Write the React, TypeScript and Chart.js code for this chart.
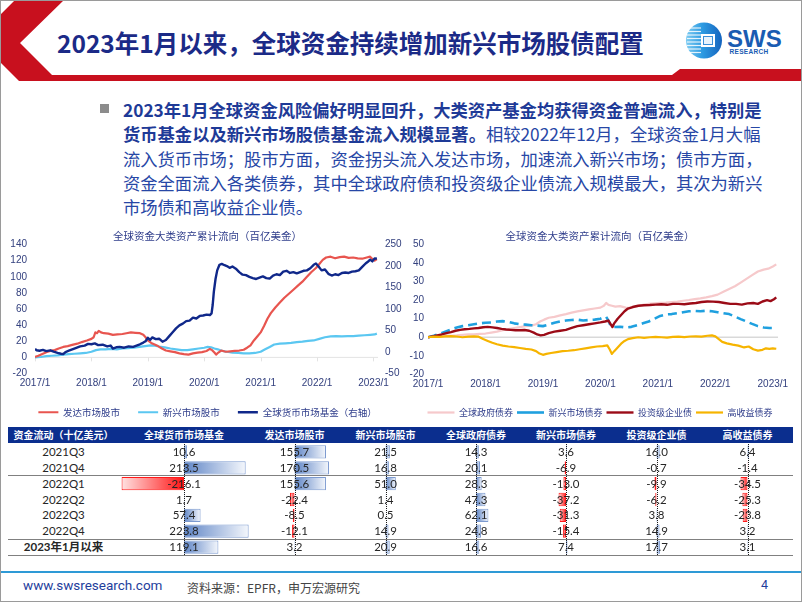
import React, { useEffect, useRef } from 'react';
import { Chart, registerables } from 'chart.js';

Chart.register(...registerables);

const CJK = '"Noto Sans CJK SC", "Noto Sans", sans-serif';
const NUM = '"Liberation Sans", "Noto Sans CJK SC", sans-serif';
const TBL = 'Lato, "Noto Sans CJK SC", sans-serif';
Chart.defaults.font.family = NUM;

// ---------- Left chart: 全球资金大类资产累计流向（百亿美金） ----------
const xYears = [2017, 2018, 2019, 2020, 2021, 2022, 2023];
const leftAxisRange = [-20, 140];
const leftAxisStep = 20;
const rightAxisRange = [-50, 250];
const rightAxisStep = 50;
const xRange = [2017, 2023.08];

// 发达市场股市 (left axis)
const dmEquity = [
  [2017.0, 0.5], [2017.06, 2], [2017.12, 4], [2017.2, 6.5], [2017.27, 8], [2017.35, 9], [2017.42, 11],
  [2017.5, 13], [2017.58, 14], [2017.66, 15.5], [2017.75, 17], [2017.83, 19], [2017.92, 21], [2018.0, 23],
  [2018.04, 25], [2018.07, 31], [2018.1, 30], [2018.13, 33], [2018.17, 31], [2018.22, 30], [2018.3, 29.5],
  [2018.38, 28], [2018.46, 28.5], [2018.55, 29], [2018.62, 30], [2018.7, 31], [2018.78, 30.5], [2018.86, 30],
  [2018.92, 28], [2018.96, 25], [2019.0, 21], [2019.06, 18], [2019.12, 16], [2019.18, 14], [2019.25, 11],
  [2019.32, 8.5], [2019.4, 7.5], [2019.48, 6.5], [2019.56, 5], [2019.64, 4], [2019.72, 3.5], [2019.8, 5],
  [2019.88, 6], [2019.96, 6.5], [2020.04, 8], [2020.1, 10.5], [2020.14, 9], [2020.18, 6], [2020.21, 3.5],
  [2020.25, 6], [2020.3, 8.5], [2020.38, 7], [2020.46, 7.5], [2020.54, 8], [2020.62, 8.5], [2020.7, 9.5],
  [2020.76, 12], [2020.82, 15], [2020.88, 21], [2020.94, 26], [2021.0, 31], [2021.06, 39], [2021.12, 48],
  [2021.18, 55], [2021.26, 62], [2021.34, 68], [2021.42, 74], [2021.5, 79], [2021.58, 84], [2021.66, 89],
  [2021.74, 94], [2021.82, 100], [2021.9, 106], [2021.98, 111], [2022.04, 116], [2022.1, 121], [2022.16, 124],
  [2022.24, 125], [2022.32, 123], [2022.4, 124.5], [2022.48, 125], [2022.56, 123.5], [2022.64, 124],
  [2022.72, 123], [2022.8, 122.5], [2022.88, 124], [2022.94, 125], [2022.98, 122], [2023.02, 120], [2023.06, 122],
];

// 新兴市场股市 (left axis)
const emEquity = [
  [2017.0, 0], [2017.1, 0.5], [2017.2, 1.5], [2017.3, 2], [2017.4, 2.5], [2017.5, 3.5], [2017.6, 4],
  [2017.7, 4.5], [2017.8, 5], [2017.9, 5.5], [2018.0, 7], [2018.08, 9], [2018.16, 10], [2018.25, 10],
  [2018.35, 10.5], [2018.45, 10], [2018.55, 11], [2018.65, 11.5], [2018.75, 12], [2018.85, 13], [2018.95, 14],
  [2019.05, 15], [2019.12, 14.5], [2019.2, 13.5], [2019.3, 12.5], [2019.4, 11], [2019.5, 10], [2019.6, 9],
  [2019.7, 9], [2019.8, 10], [2019.9, 11], [2020.0, 12], [2020.06, 13], [2020.12, 12.5], [2020.18, 11],
  [2020.24, 10], [2020.32, 8], [2020.4, 7], [2020.5, 6], [2020.6, 5.5], [2020.7, 5], [2020.8, 5],
  [2020.9, 5.5], [2021.0, 7], [2021.08, 10], [2021.16, 13], [2021.24, 16], [2021.34, 17], [2021.44, 17.5],
  [2021.54, 18], [2021.64, 19], [2021.74, 19.5], [2021.84, 20.5], [2021.94, 21], [2022.04, 23], [2022.14, 25],
  [2022.24, 26], [2022.34, 26.5], [2022.44, 26], [2022.54, 26.5], [2022.64, 26.5], [2022.74, 27],
  [2022.84, 27.5], [2022.94, 28], [2023.02, 28.5], [2023.06, 29.5],
];

// 全球货币市场基金 (right axis)
const moneyMarket = [
  [2017.0, 7], [2017.03, 4], [2017.08, 3], [2017.14, 5], [2017.2, 2], [2017.27, 4], [2017.33, 1], [2017.4, -2],
  [2017.46, -4], [2017.5, -5], [2017.54, 0], [2017.6, 3], [2017.66, 6], [2017.72, 9], [2017.8, 13],
  [2017.88, 15], [2017.94, 19], [2018.0, 18], [2018.06, 20], [2018.12, 16], [2018.2, 17], [2018.28, 13],
  [2018.34, 15], [2018.38, 8], [2018.44, 11], [2018.5, 12], [2018.58, 10], [2018.66, 13], [2018.74, 12],
  [2018.8, 15], [2018.86, 18], [2018.92, 22], [2018.96, 25], [2019.0, 33], [2019.04, 28], [2019.08, 34],
  [2019.14, 30], [2019.2, 31], [2019.26, 24], [2019.32, 28], [2019.38, 37], [2019.44, 46], [2019.5, 55],
  [2019.56, 62], [2019.62, 66], [2019.68, 72], [2019.74, 73], [2019.8, 80], [2019.86, 78], [2019.92, 84],
  [2019.98, 85], [2020.04, 87], [2020.1, 86], [2020.13, 90], [2020.15, 110], [2020.17, 140], [2020.2, 170],
  [2020.23, 190], [2020.27, 203], [2020.31, 205], [2020.36, 202], [2020.4, 200], [2020.45, 196], [2020.5, 199],
  [2020.56, 194], [2020.62, 186], [2020.68, 180], [2020.74, 179], [2020.8, 175], [2020.86, 172], [2020.92, 170],
  [2020.98, 173], [2021.04, 176], [2021.1, 172], [2021.16, 171], [2021.22, 178], [2021.28, 181], [2021.34, 179],
  [2021.4, 187], [2021.46, 189], [2021.52, 184], [2021.58, 186], [2021.64, 183], [2021.7, 186], [2021.76, 189],
  [2021.82, 190], [2021.88, 195], [2021.94, 203], [2021.98, 206], [2022.02, 200], [2022.08, 190], [2022.14, 192],
  [2022.2, 182], [2022.26, 178], [2022.32, 181], [2022.38, 179], [2022.44, 184], [2022.5, 185], [2022.56, 184],
  [2022.62, 187], [2022.68, 188], [2022.74, 190], [2022.8, 198], [2022.86, 206], [2022.9, 210], [2022.94, 215],
  [2022.98, 211], [2023.02, 218], [2023.06, 217],
];

// ---------- Right chart ----------
const bondAxisRange = [-20, 50];
const bondAxisStep = 10;
const bondXRange = [2017, 2023.09];

// 全球政府债券
const govBonds = [
  [2017.0, 0], [2017.1, 0.3], [2017.2, 0.8], [2017.3, 1], [2017.4, 0.8], [2017.5, 1], [2017.6, 1.3],
  [2017.7, 1.5], [2017.8, 1.6], [2017.9, 1.8], [2018.0, 2], [2018.1, 2.5], [2018.2, 3], [2018.3, 3.8],
  [2018.4, 4.4], [2018.5, 5], [2018.6, 5.5], [2018.7, 6], [2018.8, 6.3], [2018.88, 7], [2018.95, 8.5],
  [2019.02, 9.5], [2019.1, 10.5], [2019.2, 11], [2019.3, 11.8], [2019.4, 12.5], [2019.5, 13.3], [2019.6, 14],
  [2019.7, 14.5], [2019.8, 15], [2019.9, 15.5], [2020.0, 16], [2020.06, 17], [2020.1, 18.5], [2020.14, 17.5],
  [2020.2, 17], [2020.26, 16.5], [2020.34, 16.8], [2020.44, 16], [2020.54, 15.9], [2020.64, 16.8],
  [2020.74, 17.5], [2020.84, 18], [2020.94, 18.3], [2021.04, 18.5], [2021.14, 18.7], [2021.24, 19],
  [2021.34, 19.3], [2021.44, 19.7], [2021.54, 20.1], [2021.64, 20.6], [2021.74, 21], [2021.84, 21.5],
  [2021.94, 22.2], [2022.04, 23], [2022.14, 24.5], [2022.24, 26], [2022.34, 27.5], [2022.44, 29.5],
  [2022.54, 31.5], [2022.64, 33.5], [2022.74, 35.5], [2022.84, 36.5], [2022.92, 37], [2023.0, 38.2], [2023.06, 39.3],
];

// 新兴市场债券
const emBonds = [
  [2017.0, 0], [2017.1, 0.8], [2017.2, 1.8], [2017.3, 3], [2017.4, 4.2], [2017.5, 5.3], [2017.6, 6],
  [2017.7, 6.5], [2017.8, 7], [2017.9, 7.5], [2018.0, 7.8], [2018.1, 8], [2018.2, 8.5], [2018.3, 8.7],
  [2018.4, 8.2], [2018.5, 7.5], [2018.6, 7], [2018.7, 6.8], [2018.8, 6.5], [2018.9, 6.3], [2019.0, 6],
  [2019.1, 6.8], [2019.2, 7.8], [2019.3, 8.5], [2019.4, 9], [2019.5, 9.3], [2019.6, 9.5], [2019.7, 9],
  [2019.8, 9.3], [2019.9, 9.5], [2020.0, 10], [2020.06, 10.8], [2020.1, 11], [2020.14, 9], [2020.18, 6],
  [2020.24, 5.5], [2020.34, 5.7], [2020.44, 5.3], [2020.54, 5.6], [2020.64, 6.5], [2020.74, 7.5],
  [2020.84, 8.5], [2020.94, 10], [2021.04, 11.5], [2021.14, 12.3], [2021.24, 12.5], [2021.34, 13],
  [2021.44, 13.5], [2021.54, 14], [2021.64, 14.2], [2021.74, 14], [2021.84, 14.3], [2021.94, 14],
  [2022.04, 13.5], [2022.14, 13], [2022.24, 12.5], [2022.34, 11.2], [2022.44, 9.8], [2022.54, 8.5],
  [2022.64, 7.2], [2022.74, 6], [2022.84, 5.3], [2022.94, 5], [2023.02, 5], [2023.06, 5.3],
];

// 投资级企业债
const igBonds = [
  [2017.0, 0], [2017.08, 0.5], [2017.16, 1], [2017.24, 1.5], [2017.32, 2.2], [2017.4, 2.8], [2017.48, 3.5],
  [2017.56, 4], [2017.64, 4.3], [2017.72, 4.5], [2017.8, 4.8], [2017.88, 5], [2017.96, 5.4], [2018.04, 5.6],
  [2018.12, 5.3], [2018.2, 5], [2018.28, 4.5], [2018.36, 4.2], [2018.44, 4], [2018.52, 3.8], [2018.6, 3.8],
  [2018.68, 3.9], [2018.76, 3.5], [2018.84, 2.5], [2018.9, 1.5], [2018.96, 1], [2019.02, 1.3], [2019.1, 2.2],
  [2019.2, 3], [2019.3, 3.5], [2019.4, 4], [2019.5, 5], [2019.6, 6], [2019.7, 6.5], [2019.8, 7], [2019.9, 7.5],
  [2020.0, 8], [2020.08, 8.5], [2020.14, 9], [2020.18, 7], [2020.21, 5.5], [2020.24, 7.5], [2020.3, 10],
  [2020.36, 12], [2020.42, 14], [2020.48, 15.5], [2020.56, 16.3], [2020.66, 17], [2020.76, 17.3],
  [2020.86, 17.4], [2020.96, 17.6], [2021.06, 17.8], [2021.16, 17.5], [2021.26, 18], [2021.36, 18],
  [2021.46, 17.8], [2021.56, 18.2], [2021.66, 18.5], [2021.76, 19], [2021.86, 19.3], [2021.96, 19.2],
  [2022.06, 19], [2022.16, 18.5], [2022.26, 18], [2022.36, 18], [2022.46, 17.6], [2022.56, 18.3],
  [2022.66, 18.5], [2022.74, 18], [2022.82, 19.3], [2022.9, 20], [2022.96, 19.5], [2023.02, 20.5], [2023.06, 21.5],
];

// 高收益债券
const hyBonds = [
  [2017.0, 0], [2017.1, 0.3], [2017.2, 0.2], [2017.3, 0.5], [2017.4, 0.6], [2017.5, 0.4], [2017.6, 0],
  [2017.7, 0.3], [2017.8, 0.5], [2017.88, 0.3], [2017.96, -1], [2018.04, -2], [2018.12, -3], [2018.2, -3.8],
  [2018.3, -4.5], [2018.4, -5], [2018.5, -5.3], [2018.6, -5.8], [2018.7, -6.3], [2018.8, -6.6], [2018.88, -7.5],
  [2018.94, -8.8], [2019.0, -9.5], [2019.06, -9], [2019.14, -8.5], [2019.24, -8], [2019.34, -7.5],
  [2019.44, -7.3], [2019.54, -7], [2019.64, -6.5], [2019.74, -6], [2019.84, -5.5], [2019.94, -5],
  [2020.04, -4.8], [2020.12, -4.4], [2020.16, -6.5], [2020.2, -9], [2020.24, -7.5], [2020.3, -5.5],
  [2020.36, -3.5], [2020.42, -2], [2020.48, -1], [2020.56, -0.5], [2020.66, 0], [2020.76, -0.3], [2020.86, 0],
  [2020.96, 0.2], [2021.06, 0], [2021.16, -0.2], [2021.26, 0.2], [2021.36, 0.3], [2021.46, 0.1], [2021.56, 0.4],
  [2021.66, 0.5], [2021.76, 0.3], [2021.86, 0.8], [2021.94, 1], [2022.0, 0.5], [2022.06, -1], [2022.12, -2.5],
  [2022.2, -3.3], [2022.3, -4], [2022.4, -4.5], [2022.5, -5.5], [2022.58, -5], [2022.66, -6.5], [2022.74, -7.2],
  [2022.82, -6.8], [2022.88, -6], [2022.94, -6.3], [2023.0, -6], [2023.06, -6.2],
];

// ---------- Table: 资金流动（十亿美元） ----------
const rowLabels = ['2021Q3', '2021Q4', '2022Q1', '2022Q2', '2022Q3', '2022Q4', '2023年1月以来'];
const colNames = ['全球货币市场基金', '发达市场股市', '新兴市场股市', '全球政府债券', '新兴市场债券', '投资级企业债', '高收益债券'];
const mmfFlows = [10.6, 213.5, -216.1, 1.7, 57.4, 223.8, 119.1];
const dmEqFlows = [155.7, 170.5, 155.6, -22.4, -8.5, -12.1, 3.2];
const emEqFlows = [21.5, 16.8, 51.0, 1.4, 0.5, 14.9, 20.9];
const govFlows = [14.3, 20.1, 28.3, 47.3, 62.1, 24.8, 16.6];
const emBondFlows = [3.6, -6.9, -13.0, -37.2, -31.3, -15.4, 7.4];
const igFlows = [16.0, -0.7, -9.9, -6.2, 3.8, 14.9, 17.7];
const hyFlows = [6.4, -1.4, -34.5, -25.3, -23.8, 3.2, 3.1];
const barRange = [-225, 225];

// ---------- layout constants ----------
const TITLE_C = '#2E3C8A';
const TICK_C = '#33407E';
const ROWS_TOP = 444;
const ROWS_H = 111;
const ROW_H = ROWS_H / 7;
const colEdges = [119, 249, 340, 431, 521, 611, 702, 793];

const toXY = (pts: number[][]) => pts.map(([x, y]) => ({ x, y }));

const zeroLine = (axisId: string, color: string, width: number, ticks: boolean) => ({
  id: 'zeroLine',
  beforeDatasetsDraw(chart: any) {
    const y = chart.scales[axisId].getPixelForValue(0);
    const { left, right } = chart.chartArea;
    const c = chart.ctx;
    c.save();
    c.strokeStyle = color;
    c.lineWidth = width;
    c.beginPath();
    c.moveTo(left, y);
    c.lineTo(right, y);
    if (ticks) {
      chart.scales.x.ticks.forEach((t: any) => {
        const x = Math.round(chart.scales.x.getPixelForValue(t.value)) + 0.5;
        c.moveTo(x, y);
        c.lineTo(x, y + 4);
      });
    }
    c.stroke();
    c.restore();
  },
});

const axisCommon = {
  grid: { display: false, drawTicks: false },
  border: { display: false },
};

const yearTicks = {
  afterBuildTicks: (s: any) => { s.ticks = xYears.map((v) => ({ value: v })); },
};

const legendSort = (a: any, b: any) => a.datasetIndex - b.datasetIndex;

function LeftChart() {
  const ref = useRef<HTMLCanvasElement>(null);
  useEffect(() => {
    const chart = new Chart(ref.current!, {
      type: 'line',
      data: {
        datasets: [
          { label: '发达市场股市', data: toXY(dmEquity), borderColor: '#E8554F', backgroundColor: '#E8554F', borderWidth: 2.2, yAxisID: 'y', order: 2 },
          { label: '新兴市场股市', data: toXY(emEquity), borderColor: '#5BC7F1', backgroundColor: '#5BC7F1', borderWidth: 2.2, yAxisID: 'y', order: 3 },
          { label: '全球货币市场基金（右轴）', data: toXY(moneyMarket), borderColor: '#10288A', backgroundColor: '#10288A', borderWidth: 2.4, yAxisID: 'y1', order: 1 },
        ] as any,
      },
      options: {
        animation: false,
        responsive: true,
        maintainAspectRatio: false,
        events: [],
        elements: { point: { radius: 0 }, line: { tension: 0, borderJoinStyle: 'round' } },
        layout: { padding: 0 },
        plugins: {
          title: { display: true, text: '全球资金大类资产累计流向（百亿美金）', color: TITLE_C, font: { size: 10.5, family: CJK, weight: 'normal' }, padding: { top: 6, bottom: 2 } },
          legend: {
            position: 'bottom',
            labels: { usePointStyle: true, pointStyle: 'line', pointStyleWidth: 20, padding: 18, color: TITLE_C, font: { size: 9.5, family: CJK }, sort: legendSort },
          },
          tooltip: { enabled: false },
        },
        scales: {
          x: {
            type: 'linear', min: xRange[0], max: xRange[1], ...axisCommon, ...yearTicks,
            ticks: { autoSkip: false, maxRotation: 0, padding: 4, color: TICK_C, font: { size: 10 }, callback: (v: any) => `${v}/1` },
            afterFit: (s: any) => { s.height = 16; },
          },
          y: {
            position: 'left', min: leftAxisRange[0], max: leftAxisRange[1], ...axisCommon,
            ticks: { stepSize: leftAxisStep, padding: 8, color: TICK_C, font: { size: 10 } },
            afterFit: (s: any) => { s.width = 35; },
          },
          y1: {
            position: 'right', min: rightAxisRange[0], max: rightAxisRange[1], ...axisCommon,
            ticks: { stepSize: rightAxisStep, padding: 7, color: TICK_C, font: { size: 10 } },
            afterFit: (s: any) => { s.width = 37; },
          },
        },
      } as any,
      plugins: [zeroLine('y', '#E3E3E3', 1, true)],
    });
    return () => chart.destroy();
  }, []);
  return (
    <div style={{ position: 'absolute', left: 0, top: 224, width: 415, height: 203 }}>
      <canvas ref={ref} />
    </div>
  );
}

function RightChart() {
  const ref = useRef<HTMLCanvasElement>(null);
  useEffect(() => {
    const chart = new Chart(ref.current!, {
      type: 'line',
      data: {
        datasets: [
          { label: '全球政府债券', data: toXY(govBonds), borderColor: '#F6C9CB', backgroundColor: '#F6C9CB', borderWidth: 2.2, order: 4 },
          { label: '新兴市场债券', data: toXY(emBonds), borderColor: '#1FA0DF', backgroundColor: '#1FA0DF', borderWidth: 2.6, borderDash: [9, 5], order: 3 },
          { label: '投资级企业债', data: toXY(igBonds), borderColor: '#9B0B17', backgroundColor: '#9B0B17', borderWidth: 2.4, order: 2 },
          { label: '高收益债券', data: toXY(hyBonds), borderColor: '#F6B400', backgroundColor: '#F6B400', borderWidth: 2.2, order: 1 },
        ] as any,
      },
      options: {
        animation: false,
        responsive: true,
        maintainAspectRatio: false,
        events: [],
        elements: { point: { radius: 0 }, line: { tension: 0, borderJoinStyle: 'round' } },
        layout: { padding: 0 },
        plugins: {
          title: { display: true, text: '全球资金大类资产累计流向（百亿美金）', color: TITLE_C, font: { size: 10.5, family: CJK, weight: 'normal' }, padding: { top: 6, bottom: 2 } },
          legend: {
            position: 'bottom',
            labels: { usePointStyle: true, pointStyle: 'line', pointStyleWidth: 27, padding: 4, color: TITLE_C, font: { size: 9, family: CJK }, sort: legendSort },
          },
          tooltip: { enabled: false },
        },
        scales: {
          x: {
            type: 'linear', min: bondXRange[0], max: bondXRange[1], ...axisCommon, ...yearTicks,
            ticks: { autoSkip: false, maxRotation: 0, padding: 4, color: TICK_C, font: { size: 10 }, callback: (v: any) => `${v}/1` },
            afterFit: (s: any) => { s.height = 29.7; },
          },
          y: {
            position: 'left', min: bondAxisRange[0], max: bondAxisRange[1], ...axisCommon,
            ticks: { stepSize: bondAxisStep, padding: 4, color: TICK_C, font: { size: 10 } },
            afterFit: (s: any) => { s.width = 28; },
          },
          yr: {
            position: 'right', ...axisCommon,
            ticks: { display: false },
            afterFit: (s: any) => { s.width = 22; },
          },
        },
      } as any,
      plugins: [zeroLine('y', '#D9D9D9', 1.5, false)],
    });
    return () => chart.destroy();
  }, []);
  return (
    <div style={{ position: 'absolute', left: 400, top: 224, width: 400, height: 203 }}>
      <canvas ref={ref} />
    </div>
  );
}

const barFill = (c: any) => {
  const v = c.raw as number;
  const solid = v >= 0 ? '#7F9DD0' : '#FF3B3B';
  const chart = c.chart;
  const xs = chart && chart.scales && chart.scales.x;
  if (!xs || !chart.chartArea || typeof v !== 'number') return solid;
  const x0 = xs.getPixelForValue(0);
  const x1 = xs.getPixelForValue(v);
  if (!isFinite(x0) || !isFinite(x1) || Math.abs(x1 - x0) < 1) return solid;
  const g = chart.ctx.createLinearGradient(x0, 0, x1, 0);
  if (v >= 0) {
    g.addColorStop(0, '#5F85C6');
    g.addColorStop(1, '#F4F7FC');
  } else {
    g.addColorStop(0, '#FF1414');
    g.addColorStop(1, '#FFE2E2');
  }
  return g;
};

const barAxisPlugin = {
  id: 'barAxis',
  afterDatasetsDraw(chart: any) {
    const x = Math.round(chart.scales.x.getPixelForValue(0)) + 0.5;
    const { top, bottom } = chart.chartArea;
    const c = chart.ctx;
    c.save();
    c.strokeStyle = '#1A1A1A';
    c.lineWidth = 1;
    c.setLineDash([1, 1]);
    c.beginPath();
    c.moveTo(x, top);
    c.lineTo(x, bottom);
    c.stroke();
    c.restore();
  },
};

function BarColumn({ values, left, width }: { values: number[]; left: number; width: number }) {
  const ref = useRef<HTMLCanvasElement>(null);
  useEffect(() => {
    const chart = new Chart(ref.current!, {
      type: 'bar',
      data: {
        labels: rowLabels,
        datasets: [{
          data: values,
          backgroundColor: barFill,
          borderColor: (c: any) => ((c.raw as number) >= 0 ? '#7C9AD0' : '#FF1A1A'),
          borderWidth: 1,
          borderSkipped: false,
          barPercentage: 0.84,
          categoryPercentage: 1,
        }] as any,
      },
      options: {
        indexAxis: 'y',
        animation: false,
        responsive: true,
        maintainAspectRatio: false,
        events: [],
        layout: { padding: 0 },
        plugins: { legend: { display: false }, title: { display: false }, tooltip: { enabled: false } },
        scales: {
          x: { display: false, min: barRange[0], max: barRange[1] },
          y: { display: false },
        },
      } as any,
      plugins: [barAxisPlugin],
    });
    return () => chart.destroy();
  }, []);
  return (
    <div style={{ position: 'absolute', left, top: ROWS_TOP, width, height: ROWS_H }}>
      <canvas ref={ref} />
    </div>
  );
}

const paraLines: [string, string][] = [
  ['2023年1月全球资金风险偏好明显回升，大类资产基金均获得资金普遍流入，特别是', ''],
  ['货币基金以及新兴市场股债基金流入规模显著。', '相较2022年12月，全球资金1月大幅'],
  ['', '流入货币市场；股市方面，资金拐头流入发达市场，加速流入新兴市场；债市方面，'],
  ['', '资金全面流入各类债券，其中全球政府债和投资级企业债流入规模最大，其次为新兴'],
  ['', '市场债和高收益企业债。'],
];

function Header() {
  return (
    <>
      <svg width={802} height={85} style={{ position: 'absolute', left: 0, top: 0 }}>
        <defs>
          <linearGradient id="logoGrad" x1="0" x2="1" y1="0" y2="0">
            <stop offset="0" stopColor="#7CCBF2" />
            <stop offset="0.45" stopColor="#2D9BE2" />
            <stop offset="1" stopColor="#1463BE" />
          </linearGradient>
        </defs>
        <polygon points="15,0 64,0 20,43 52,75 672,75 680,69 802,69 802,81 19,81 0,62 0,15" fill="#C8101E" />
        <circle cx={704} cy={40.5} r={18} fill="url(#logoGrad)" />
        {[28, 31.5, 35, 38.5, 42, 45.5, 49, 52.5].map((y) => (
          <line key={y} x1={687} x2={701} y1={y} y2={y} stroke="#FFFFFF" strokeWidth={1.2} opacity={0.85} />
        ))}
        <rect x={701} y={34} width={14} height={13} fill="#FFFFFF" />
        <rect x={703.5} y={36.5} width={9} height={8} fill="#E8F3FC" stroke="#3A8FD8" strokeWidth={1} />
        <text x={727} y={47} fontSize={24} fontWeight={900} fill="#1A5CB2" fontFamily='"Liberation Sans", sans-serif'>SWS</text>
        <text x={729.5} y={53.5} fontSize={6.5} fontWeight={700} fill="#1A5CB2" fontFamily='"Liberation Sans", sans-serif' letterSpacing={0.3}>RESEARCH</text>
      </svg>
      <div style={{ position: 'absolute', left: 57, top: 25, height: 36, lineHeight: '36px', fontSize: 24.5, fontWeight: 700, color: '#1B2A87', fontFamily: CJK, whiteSpace: 'nowrap' }}>
        2023年1月以来，全球资金持续增加新兴市场股债配置
      </div>
    </>
  );
}

function Paragraph() {
  return (
    <>
      <div style={{ position: 'absolute', left: 100, top: 104, width: 9, height: 9, background: '#8C8C8C' }} />
      <div style={{ position: 'absolute', left: 123, top: 98, fontFamily: CJK, fontSize: 17.3, lineHeight: '24.3px', whiteSpace: 'nowrap' }}>
        {paraLines.map(([b, n], i) => (
          <div key={i}>
            {b && <span style={{ fontWeight: 700, color: '#1E3A97' }}>{b}</span>}
            {n && <span style={{ fontWeight: 400, color: '#2747A6' }}>{n}</span>}
          </div>
        ))}
      </div>
    </>
  );
}

function Table() {
  const cols = [mmfFlows, dmEqFlows, emEqFlows, govFlows, emBondFlows, igFlows, hyFlows];
  return (
    <>
      <div style={{ position: 'absolute', left: 8, top: 427, width: 785, height: 16, background: '#0B2E8E' }} />
      <div style={{ position: 'absolute', left: 8, top: 427, width: colEdges[0] - 8, height: 16, lineHeight: '16px', textAlign: 'center', color: '#fff', fontWeight: 700, fontSize: 10, fontFamily: CJK, whiteSpace: 'nowrap' }}>资金流动（十亿美元）</div>
      {colNames.map((n, j) => (
        <div key={n} style={{ position: 'absolute', left: colEdges[j], top: 427, width: colEdges[j + 1] - colEdges[j], height: 16, lineHeight: '16px', textAlign: 'center', color: '#fff', fontWeight: 700, fontSize: 10, fontFamily: CJK, whiteSpace: 'nowrap' }}>{n}</div>
      ))}
      {cols.map((vals, j) => (
        <BarColumn key={j} values={vals} left={colEdges[j]} width={colEdges[j + 1] - colEdges[j]} />
      ))}
      {rowLabels.map((r, i) => (
        <div key={r} style={{ position: 'absolute', left: 8, top: ROWS_TOP + i * ROW_H, width: colEdges[0] - 8, height: ROW_H, lineHeight: `${ROW_H}px`, textAlign: 'center', fontFamily: TBL, fontSize: 11.5, color: '#262626', fontWeight: i === 6 ? 700 : 400, whiteSpace: 'nowrap', zIndex: 2 }}>{r}</div>
      ))}
      {cols.map((vals, j) =>
        vals.map((v, i) => (
          <div key={`${j}-${i}`} style={{ position: 'absolute', left: colEdges[j], top: ROWS_TOP + i * ROW_H, width: colEdges[j + 1] - colEdges[j], height: ROW_H, lineHeight: `${ROW_H}px`, textAlign: 'center', fontFamily: TBL, fontSize: 11.5, color: '#262626', whiteSpace: 'nowrap', zIndex: 2 }}>{v.toFixed(1)}</div>
        ))
      )}
      {[2, 6, 7].map((k) => (
        <div key={k} style={{ position: 'absolute', left: 8, top: ROWS_TOP + k * ROW_H - 0.5, width: 785, height: 0, borderTop: '1px solid #808080', zIndex: 3 }} />
      ))}
    </>
  );
}

function Footer() {
  return (
    <>
      <div style={{ position: 'absolute', left: 0, top: 571, width: 802, height: 2, background: '#2E9AD6' }} />
      <div style={{ position: 'absolute', left: 23, top: 577, lineHeight: '16px', fontSize: 13.5, color: '#1F3E9C', fontFamily: 'Roboto, sans-serif', whiteSpace: 'nowrap' }}>www.swsresearch.com</div>
      <div style={{ position: 'absolute', left: 187, top: 580, lineHeight: '16px', fontSize: 12, color: '#444', fontFamily: CJK, whiteSpace: 'nowrap' }}>资料来源：EPFR，申万宏源研究</div>
      <div style={{ position: 'absolute', left: 761, top: 577, lineHeight: '16px', fontSize: 12.5, color: '#1F3E9C', fontFamily: 'Roboto, sans-serif' }}>4</div>
    </>
  );
}

export default function App() {
  useEffect(() => {
    document.body.style.margin = '0';
  }, []);
  return (
    <div style={{ position: 'absolute', left: 0, top: 0, width: 802, height: 602, background: '#FFFFFF', overflow: 'hidden', fontFamily: CJK }}>
      <Header />
      <Paragraph />
      <LeftChart />
      <RightChart />
      <Table />
      <Footer />
      <div style={{ position: 'absolute', left: 0, top: 0, width: 802, height: 602, boxSizing: 'border-box', border: '1px solid #9A9A9A', pointerEvents: 'none', zIndex: 5 }} />
    </div>
  );
}
